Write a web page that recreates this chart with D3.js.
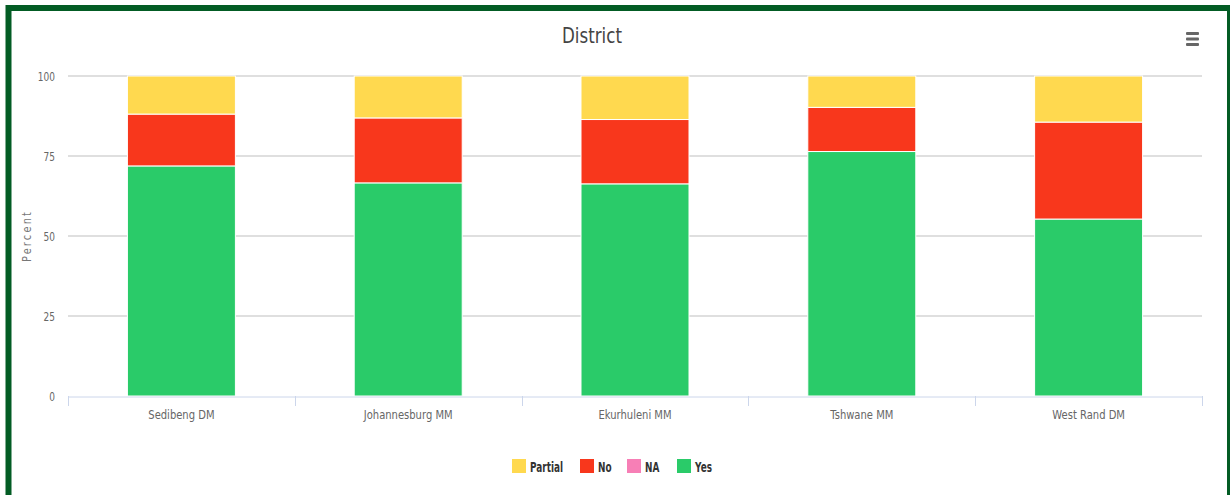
<!DOCTYPE html>
<html>
<head>
<meta charset="utf-8">
<script src="https://cdn.jsdelivr.net/npm/d3@7"></script>
<style>
  html, body { margin: 0; padding: 0; background: #fff; }
  #chart { width: 1230px; height: 495px; }
  text { font-family: "DejaVu Sans", sans-serif; }
</style>
</head>
<body>
<div id="chart"></div>
<script>
// data
const districts = ['Sedibeng DM', 'Johannesburg MM', 'Ekurhuleni MM', 'Tshwane MM', 'West Rand DM'];
const yesValues = [71.9, 66.6, 66.3, 76.4, 55.3];
const naValues = [0, 0, 0, 0, 0];
const noValues = [16.2, 20.3, 20.1, 13.8, 30.3];
const partialValues = [11.9, 13.1, 13.6, 9.8, 14.4];
const yTicks = [0, 25, 50, 75, 100];

const seriesNames = ['Partial', 'No', 'NA', 'Yes'];
const seriesColors = {Partial: '#ffd94f', No: '#f8371c', NA: '#f77fb6', Yes: '#2acb69'};

const W = 1230, H = 495;
const margin = {top: 76, right: 28, bottom: 99, left: 68};
const innerW = W - margin.left - margin.right;
const innerH = H - margin.top - margin.bottom;

// no condensed face installed, so squeeze text horizontally
const squeeze = (tx, ty, s) => `translate(${tx},${ty}) scale(${s},1)`;

const svg = d3.select('#chart').append('svg')
    .attr('width', W)
    .attr('height', H);

// green frame
svg.append('rect')
    .attr('x', 8.5).attr('y', 8)
    .attr('width', W + 20).attr('height', H + 20)
    .attr('fill', '#fff')
    .attr('stroke', '#035c24')
    .attr('stroke-width', 6);
svg.append('rect')
    .attr('x', 1227).attr('y', 5).attr('width', 3).attr('height', H)
    .attr('fill', '#035c24');

const g = svg.append('g')
    .attr('transform', `translate(${margin.left},${margin.top})`);

// stack table, Yes at the bottom
const rows = districts.map((d, i) => ({
    district: d,
    Yes: yesValues[i],
    NA: naValues[i],
    No: noValues[i],
    Partial: partialValues[i]
}));
const stacked = d3.stack().keys(['Yes', 'NA', 'No', 'Partial'])(rows);

const x = d3.scaleBand()
    .domain(districts)
    .range([0, innerW])
    .paddingInner(0)
    .paddingOuter(0);

const y = d3.scaleLinear()
    .domain([0, 100])
    .range([innerH, 0]);

// grid lines
g.append('g').selectAll('line.grid')
    .data(yTicks.filter(t => t > 0))
    .join('line')
    .attr('class', 'grid')
    .attr('x1', 0).attr('x2', innerW)
    .attr('y1', d => y(d)).attr('y2', d => y(d))
    .attr('stroke', '#d4d4d4')
    .attr('stroke-width', 1.5);

// y labels
g.append('g').selectAll('text.ytick')
    .data(yTicks)
    .join('text')
    .attr('class', 'ytick')
    .attr('transform', d => squeeze(-13, y(d) + 4.5, 0.72))
    .attr('text-anchor', 'end')
    .attr('fill', '#666')
    .style('font-size', '12.5px')
    .text(d => d);

// axis title
svg.append('text')
    .attr('transform', `translate(31,${margin.top + innerH / 2}) rotate(-90) scale(0.85,1)`)
    .attr('text-anchor', 'middle')
    .attr('fill', '#777')
    .style('font-size', '11.5px')
    .style('letter-spacing', '2.6px')
    .text('Percent');

// bars
const barW = 108;
g.selectAll('.series')
    .data(stacked)
    .join('g')
    .attr('class', 'series')
    .attr('fill', d => seriesColors[d.key])
    .selectAll('rect')
    .data(d => d)
    .join('rect')
    .attr('x', d => x(d.data.district) + x.bandwidth() / 2 - barW / 2)
    .attr('y', d => y(d[1]))
    .attr('width', barW)
    .attr('height', d => Math.max(0, y(d[0]) - y(d[1])))
    .attr('stroke', d => (d[1] - d[0]) > 0 ? '#fff' : 'none')
    .attr('stroke-width', 1);

// x axis
const xAxis = d3.axisBottom(x).tickSize(0).tickFormat(d => d);
const xAxisG = g.append('g')
    .attr('transform', `translate(0,${innerH + 0.5})`)
    .call(xAxis);
xAxisG.select('.domain').attr('stroke', '#ccd6eb');
xAxisG.selectAll('text')
    .attr('dy', 0)
    .attr('y', 0)
    .attr('transform', squeeze(0, 22, 0.8))
    .attr('fill', '#666')
    .style('font-size', '12.5px')
    .style('font-family', '"DejaVu Sans", sans-serif');
g.append('g').selectAll('line.xtick')
    .data(d3.range(districts.length + 1))
    .join('line')
    .attr('class', 'xtick')
    .attr('x1', i => Math.round(i * x.step()) + 0.5)
    .attr('x2', i => Math.round(i * x.step()) + 0.5)
    .attr('y1', innerH)
    .attr('y2', innerH + 10)
    .attr('stroke', '#ccd6eb');

// title
svg.append('text')
    .attr('transform', squeeze(592, 43, 0.76))
    .attr('text-anchor', 'middle')
    .attr('fill', '#444')
    .style('font-size', '22px')
    .text('District');

// menu icon
svg.append('g').selectAll('rect')
    .data([0, 1, 2])
    .join('rect')
    .attr('x', 1186)
    .attr('y', i => 32 + i * 5.5)
    .attr('width', 13)
    .attr('height', 3)
    .attr('rx', 1)
    .attr('fill', '#666');

// legend
const legendX = [512, 580, 627, 677];
const legend = svg.append('g').selectAll('g')
    .data(seriesNames)
    .join('g')
    .attr('transform', (d, i) => `translate(${legendX[i]},459)`);
legend.append('rect')
    .attr('width', 14).attr('height', 14)
    .attr('fill', d => seriesColors[d]);
legend.append('text')
    .attr('transform', squeeze(18, 12.5, 0.66))
    .attr('fill', '#333')
    .style('font-size', '13.5px')
    .style('font-weight', 'bold')
    .text(d => d);
</script>
</body>
</html>
